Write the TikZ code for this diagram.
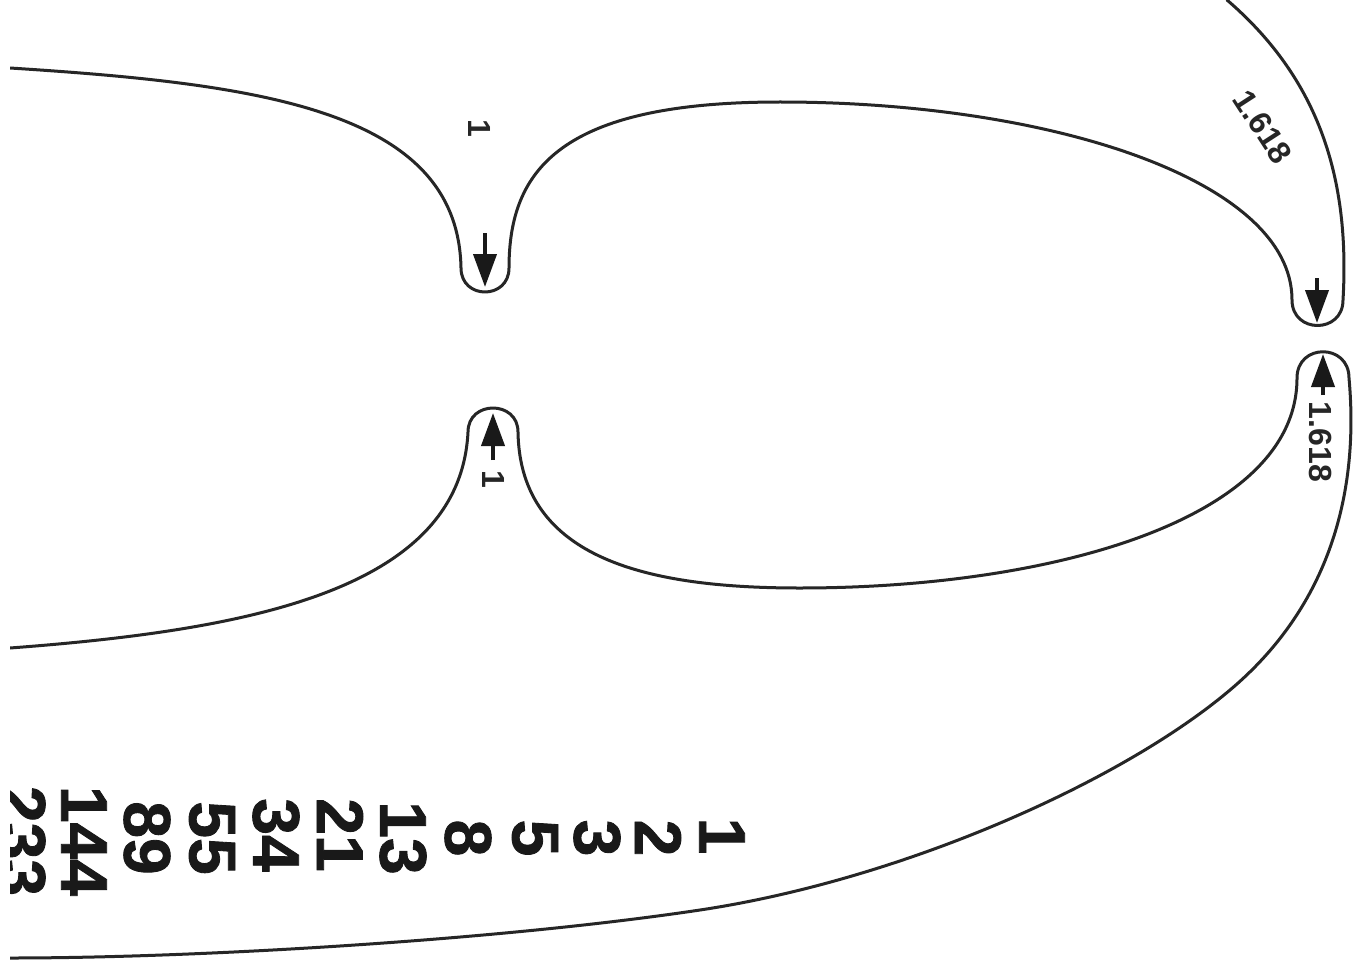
\documentclass[tikz,border=0pt]{standalone}
\usepackage{fontspec}
\setmainfont{Liberation Sans}
\newfontfamily\fibfont{Liberation Sans}[BoldFeatures={FakeBold=1.3}]
\usetikzlibrary{arrows.meta}
\begin{document}
\begin{tikzpicture}[x=1pt,y=-1pt,
  curve/.style={line width=3pt, draw=black!85, line join=round, line cap=round},
  fib/.style={font=\fibfont\bfseries\fontsize{66}{66}\selectfont, rotate=-90, inner sep=0pt, text=black!90},
  lab/.style={font=\bfseries\fontsize{32}{32}\selectfont, inner sep=0pt, text=black!85},
  arr/.style={line width=4pt, draw=black!90, -{Triangle[length=33pt,width=23pt]}}]
\useasboundingbox (0,0) rectangle (1356,960);
\fill[white] (0,0) rectangle (1356,960);
\begin{scope}
\clip (10,0) rectangle (1356,960);
% upper curve
\draw[curve] (10,68) .. controls (260,84) and (458,110) .. (461,268)
  .. controls (461,300) and (509,300) .. (509,268)
  .. controls (509,170) and (560,102) .. (780,102)
  .. controls (1050,102) and (1292,180) .. (1292,300)
  .. controls (1292,334) and (1343,334) .. (1343,300)
  .. controls (1350,180) and (1320,80) .. (1227,0);
% lower curve
\draw[curve] (10,648) .. controls (250,630) and (460,590) .. (468,432)
  .. controls (468,400) and (518,400) .. (518,432)
  .. controls (520,560) and (650,588) .. (800,588)
  .. controls (1050,588) and (1297,520) .. (1297,378)
  .. controls (1297,343) and (1349,343) .. (1349,378)
  .. controls (1360,500) and (1325,610) .. (1230,690)
  .. controls (1120,783) and (900,880) .. (700,910)
  .. controls (500,940) and (200,958) .. (10,958);
% arrows
\coordinate (a1s) at (485,233); \coordinate (a1e) at (485,287);
\coordinate (a2s) at (1317,278); \coordinate (a2e) at (1317,323);
\coordinate (a3s) at (1323,395); \coordinate (a3e) at (1323,354);
\coordinate (a4s) at (493,460); \coordinate (a4e) at (493,413);
\draw[arr] (a1s) -- (a1e);
\draw[arr] (a2s) -- (a2e);
\draw[arr] (a3s) -- (a3e);
\draw[arr] (a4s) -- (a4e);
% labels
\node[lab, rotate=-90] (l1) at (480,128) {1};
\node[lab, rotate=-57] (l2) at (1263,127) {1.618};
\node[lab, rotate=-90] (l3) at (493,479) {1};
\node[lab, rotate=-90] (l4) at (1320,442) {1.618};
% Fibonacci numbers
\node[fib] (f1) at (722,836) {1};
\node[fib] (f2) at (658,838) {2};
\node[fib] (f3) at (597,838) {3};
\node[fib] (f5) at (535,838) {5};
\node[fib] (f8) at (468,838) {8};
\node[fib] (f13) at (403,838) {13};
\node[fib] (f21) at (340,835) {21};
\node[fib] (f34) at (276,835) {34};
\node[fib] (f55) at (212,838) {55};
\node[fib] (f89) at (147,838) {89};
\node[fib] (f144) at (84,841) {144};
\node[fib] (f233) at (22,841) {233};
\end{scope}
\end{tikzpicture}
\end{document}
